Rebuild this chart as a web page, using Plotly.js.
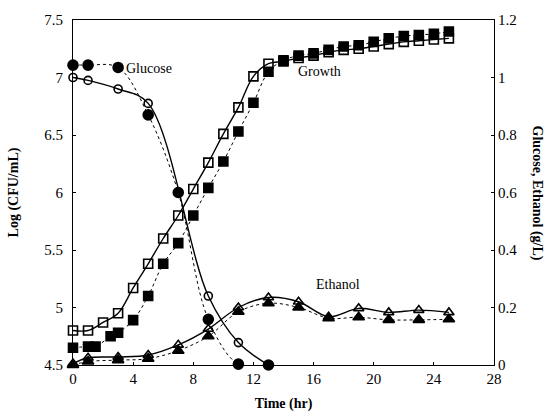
<!DOCTYPE html>
<html>
<head>
<meta charset="utf-8">
<script src="https://cdn.plot.ly/plotly-3.0.1.min.js"></script>
<style>html,body{margin:0;padding:0;background:#fff;}#chart{width:555px;height:416px;}</style>
</head>
<body>
<div id="chart"></div>
<script>
// Growth, Log(CFU/mL)
var growthTimeOpen = [0,1,2,3,4,5,6,7,8,9,10,11,12,13,14,15,16,17,18,19,20,21,22,23,24,25];
var growthOpen = [4.80,4.80,4.87,4.95,5.17,5.38,5.60,5.80,6.03,6.26,6.51,6.74,7.01,7.12,7.14,7.17,7.19,7.22,7.24,7.25,7.27,7.29,7.31,7.32,7.33,7.34];
var growthTimeFilled = [0,1,1.5,2.5,3,4,5,6,7,8,9,10,11,12,13,14,15,16,17,18,19,20,21,22,23,24,25];
var growthFilled = [4.65,4.66,4.66,4.75,4.78,4.89,5.10,5.38,5.56,5.80,6.04,6.27,6.53,6.78,7.05,7.15,7.19,7.21,7.24,7.27,7.28,7.31,7.34,7.36,7.37,7.38,7.40];
// Glucose, g/L
var glucoseTimeOpen = [0,1,3,5,9,11,13];
var glucoseOpen = [1.0,0.99,0.96,0.91,0.24,0.078,0.0];
var glucoseTimeFilled = [0,1,3,5,7,9,11,13];
var glucoseFilled = [1.043,1.043,1.035,0.87,0.60,0.159,0.003,0.0];
// Ethanol, g/L
var ethanolTime = [0,1,3,5,7,9,11,13,15,17,19,21,23,25];
var ethanolOpen = [0.005,0.025,0.028,0.035,0.07,0.125,0.20,0.235,0.22,0.168,0.197,0.183,0.191,0.183];
var ethanolFilled = [0.0,0.012,0.017,0.022,0.05,0.10,0.185,0.215,0.20,0.163,0.166,0.157,0.157,0.159];
var xTicks = [0,4,8,12,16,20,24,28];
var leftTicks = [4.5,5,5.5,6,6.5,7,7.5];
var rightTicks = [0,0.2,0.4,0.6,0.8,1,1.2];

var serif = '"Liberation Serif", "Times New Roman", serif';
function tr(x, y, axis, sym, size, dash, lw) {
  return {
    x: x, y: y, yaxis: axis, type: 'scatter', mode: 'lines+markers',
    line: {shape: 'spline', smoothing: 1, color: '#000', width: lw, dash: dash},
    marker: {symbol: sym, size: size, color: '#000', line: {color: '#000', width: 1.6}},
    showlegend: false, hoverinfo: 'skip', cliponaxis: false
  };
}
var data = [
  tr(glucoseTimeOpen, glucoseOpen, 'y2', 'circle-open', 8, 'solid', 1.4),
  tr(glucoseTimeFilled, glucoseFilled, 'y2', 'circle', 10, 'dot', 1),
  tr(growthTimeOpen, growthOpen, 'y', 'square-open', 9, 'solid', 1.4),
  tr(growthTimeFilled, growthFilled, 'y', 'square', 9, 'dot', 1),
  tr(ethanolTime, ethanolOpen, 'y2', 'triangle-up-open', 9, 'solid', 1.4),
  tr(ethanolTime, ethanolFilled, 'y2', 'triangle-up', 10, 'dot', 1)
];
var layout = {
  width: 555, height: 416,
  margin: {l: 73, r: 61, t: 20, b: 51},
  paper_bgcolor: '#fff', plot_bgcolor: '#fff',
  font: {family: serif, size: 14, color: '#000'},
  xaxis: {
    range: [0, 28], tickvals: xTicks, ticktext: xTicks.map(String),
    showline: true, linecolor: '#000', linewidth: 1, mirror: true,
    ticks: 'inside', ticklen: 3, tickcolor: '#000', showgrid: false, zeroline: false,
    title: {text: '<b>Time (hr)</b>', font: {family: serif, size: 14}, standoff: 12},
    tickfont: {family: serif, size: 15}
  },
  yaxis: {
    range: [4.5, 7.5], tickvals: leftTicks, ticktext: leftTicks.map(String),
    showline: true, linecolor: '#000', linewidth: 1,
    ticks: 'inside', ticklen: 3, tickcolor: '#000', showgrid: false, zeroline: false,
    ticklabelstandoff: 6,
    title: {text: '<b>Log (CFU/mL)</b>', font: {family: serif, size: 14}, standoff: 22},
    tickfont: {family: serif, size: 15}
  },
  yaxis2: {
    range: [0, 1.2], tickvals: rightTicks, ticktext: rightTicks.map(String),
    overlaying: 'y', side: 'right', anchor: 'x',
    showline: true, linecolor: '#000', linewidth: 1,
    ticks: 'inside', ticklen: 3, tickcolor: '#000', showgrid: false, zeroline: false,
    tickfont: {family: serif, size: 15}
  },
  annotations: [
    {x: 3.4, y: 7.08, xref: 'x', yref: 'y', text: 'Glucose', showarrow: false, xanchor: 'left', yanchor: 'middle', font: {family: serif, size: 14}},
    {x: 14.8, y: 7.05, xref: 'x', yref: 'y', text: 'Growth', showarrow: false, xanchor: 'left', yanchor: 'middle', font: {family: serif, size: 14}},
    {x: 16.0, y: 5.2, xref: 'x', yref: 'y', text: 'Ethanol', showarrow: false, xanchor: 'left', yanchor: 'middle', font: {family: serif, size: 14}},
    {x: 1, y: 0.5, xref: 'paper', yref: 'paper', xshift: 43, text: '<b>Glucose, Ethanol (g/L)</b>', textangle: 90, showarrow: false, xanchor: 'center', yanchor: 'middle', font: {family: serif, size: 14}}
  ]
};
Plotly.newPlot('chart', data, layout, {staticPlot: true, displayModeBar: false});
</script>
</body>
</html>
